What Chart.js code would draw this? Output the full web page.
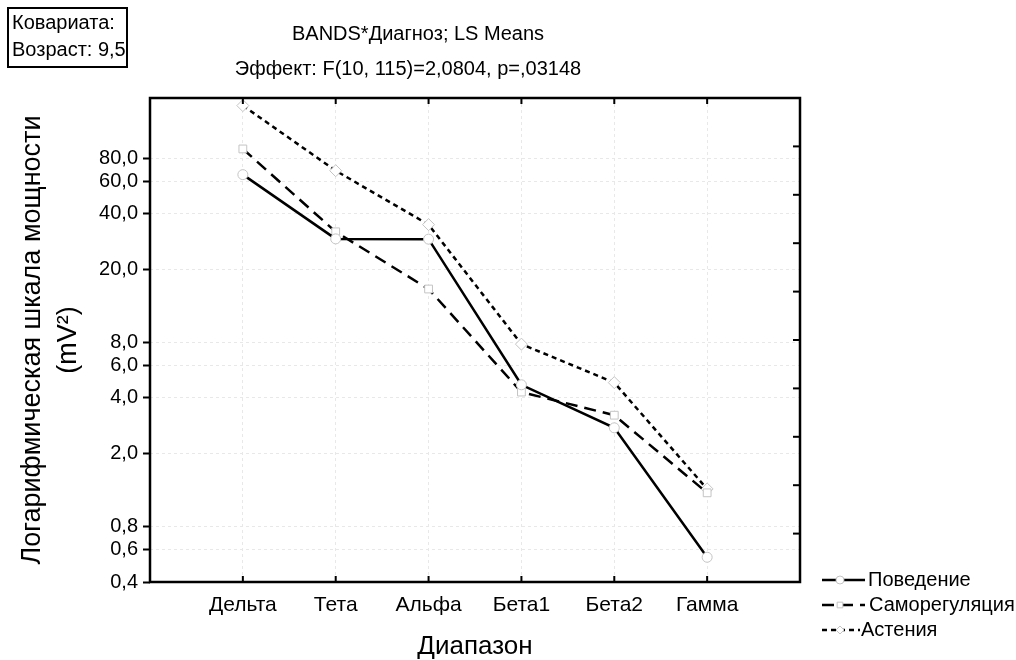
<!DOCTYPE html>
<html>
<head>
<meta charset="utf-8">
<script src="https://cdn.jsdelivr.net/npm/chart.js@4.4.1/dist/chart.umd.min.js"></script>
<style>
  body { margin: 0; background: #fff; font-family: "Liberation Sans", Arial, sans-serif; }
  #wrap { position: relative; width: 1016px; height: 660px; }
  #cov { position: absolute; left: 7px; top: 7px; width: 114px; height: 57px; border: 2px solid #000;
         font-size: 20px; line-height: 27px; padding-left: 3px; }
  .title { position: absolute; font-size: 20px; line-height: 23px; white-space: nowrap; transform: translateX(-50%); }
  canvas { position: absolute; left: 0; top: 0; }
</style>
</head>
<body>
<div id="wrap">
  <canvas id="chart" width="1016" height="660"></canvas>
  <div id="cov">Ковариата:<br>Возраст: 9,5</div>
  <div class="title" style="left:418px; top:22px;">BANDS*Диагноз; LS Means</div>
  <div class="title" style="left:408px; top:57px;">Эффект: F(10, 115)=2,0804, p=,03148</div>
</div>
<script>
const categories = ['Дельта', 'Тета', 'Альфа', 'Бета1', 'Бета2', 'Гамма'];
const seriesNames = ['Поведение', 'Саморегуляция', 'Астения'];
const povedenie = [65.2, 29.2, 29.1, 4.71, 2.75, 0.545];
const samoreg = [89.9, 31.9, 15.6, 4.30, 3.22, 1.22];
const astenia = [154.6, 68.5, 34.9, 7.83, 4.84, 1.28];
const yTicks = [0.4, 0.6, 0.8, 2, 4, 6, 8, 20, 40, 60, 80];

// empty slots at both ends so the categories sit 1/7 apart inside the frame
const labels = ['', ...categories, ''];
const pad = arr => [null, ...arr, null];

const styles = [
  { dash: [], point: 'circle', r: 5 },
  { dash: [12, 7], point: 'rect', r: 5.5 },
  { dash: [5, 4], point: 'rectRot', r: 6 }
];
const values = [povedenie, samoreg, astenia];

const datasets = values.map((v, i) => ({
  label: seriesNames[i],
  data: pad(v),
  borderColor: '#000',
  borderWidth: 2.5,
  borderDash: styles[i].dash,
  pointStyle: styles[i].point,
  pointRadius: styles[i].r,
  pointBackgroundColor: '#fff',
  pointBorderColor: '#c4c4c4',
  pointBorderWidth: 1,
  tension: 0
}));

const frame = {
  id: 'frame',
  afterDraw(chart) {
    const { ctx, chartArea: a, scales } = chart;
    ctx.save();
    ctx.strokeStyle = '#000';
    ctx.lineWidth = 2;
    // category ticks, inward on bottom and top
    scales.x.ticks.forEach((t, i) => {
      if (!labels[i]) return;
      const px = scales.x.getPixelForTick(i);
      ctx.beginPath();
      ctx.moveTo(px, a.bottom); ctx.lineTo(px, a.bottom - 6);
      ctx.moveTo(px, a.top); ctx.lineTo(px, a.top + 6);
      ctx.stroke();
    });
    // right side ticks
    for (let k = 1; k < 10; k++) {
      const py = scales.y2.getPixelForValue(k);
      ctx.beginPath();
      ctx.moveTo(a.right, py); ctx.lineTo(a.right - 7, py);
      ctx.stroke();
    }
    ctx.lineWidth = 2.5;
    ctx.strokeRect(a.left, a.top, a.right - a.left, a.bottom - a.top);

    // legend
    const rows = [580, 605, 630];
    const textX = [868, 869, 861];
    const lineEnd = [865, 865, 860];
    ctx.font = '20px "Liberation Sans", Arial, sans-serif';
    ctx.textBaseline = 'middle';
    ctx.fillStyle = '#000';
    chart.data.datasets.forEach((ds, i) => {
      const y = rows[i];
      ctx.save();
      ctx.lineWidth = 2.5;
      ctx.setLineDash(ds.borderDash);
      ctx.beginPath();
      ctx.moveTo(822, y); ctx.lineTo(lineEnd[i], y);
      ctx.stroke();
      ctx.restore();
      ctx.save();
      ctx.fillStyle = '#fff';
      ctx.strokeStyle = '#c4c4c4';
      ctx.lineWidth = 1;
      Chart.helpers.drawPoint(ctx, { pointStyle: ds.pointStyle, radius: 4, borderWidth: 1 }, 840, y);
      ctx.restore();
      ctx.fillText(ds.label, textX[i], y);
    });
    ctx.restore();
  }
};

new Chart(document.getElementById('chart'), {
  type: 'line',
  data: { labels, datasets },
  plugins: [frame],
  options: {
    responsive: false,
    animation: false,
    layout: { padding: { top: 98, right: 216, left: 0, bottom: 0 } },
    plugins: { legend: { display: false }, tooltip: { enabled: false } },
    scales: {
      x: {
        type: 'category',
        offset: false,
        grid: { color: '#e8e8e8', lineWidth: 1, drawTicks: false },
        border: { display: false, dash: [3, 3] },
        ticks: { color: '#000', font: { size: 21, family: '"Liberation Sans", Arial' }, padding: 11, autoSkip: false, maxRotation: 0 },
        title: { display: true, text: 'Диапазон', color: '#000', font: { size: 26, family: '"Liberation Sans", Arial', lineHeight: 1 }, padding: 0 },
        afterFit: s => { s.height = 78; }
      },
      y: {
        type: 'logarithmic',
        min: 0.4,
        max: 170,
        afterBuildTicks: s => { s.ticks = yTicks.map(v => ({ value: v })); },
        grid: { color: '#e8e8e8', lineWidth: 1, drawTicks: true, tickLength: 7, tickColor: '#000', tickWidth: 2 },
        border: { display: false, dash: [3, 3] },
        ticks: {
          color: '#000', font: { size: 20, family: '"Liberation Sans", Arial' }, padding: 5,
          callback: v => Number(v).toFixed(1).replace('.', ',')
        },
        title: {
          display: true, text: ['Логарифмическая шкала мощности', '(mV²)'], color: '#000',
          font: { size: 27, family: '"Liberation Sans", Arial', lineHeight: 1.35 }, padding: { top: 14, bottom: 0 }
        },
        afterFit: s => { s.width = 150; }
      },
      y2: { type: 'linear', position: 'right', min: 0, max: 10, display: false }
    }
  }
});
</script>
</body>
</html>
